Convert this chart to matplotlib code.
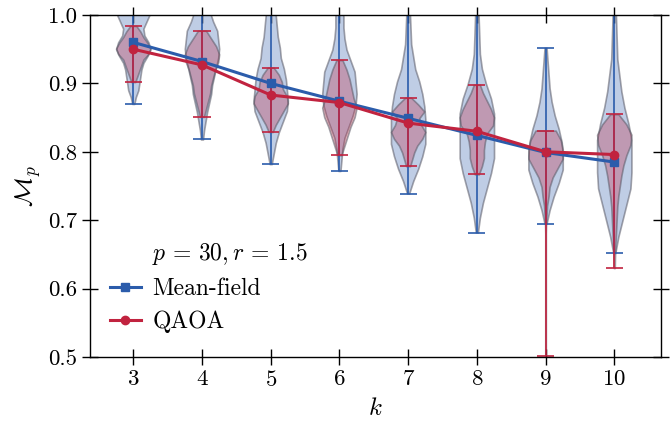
import matplotlib

matplotlib.use("Agg")
import matplotlib.pyplot as plt
import numpy as np
from matplotlib.ticker import FormatStrFormatter

plt.rcParams["font.family"] = "serif"
plt.rcParams["font.serif"] = ["cmr10"]
plt.rcParams["mathtext.fontset"] = "cm"
plt.rcParams["axes.formatter.use_mathtext"] = True

k_values = [3, 4, 5, 6, 7, 8, 9, 10]

# means shown by the markers
mf_mean = [0.960, 0.932, 0.900, 0.874, 0.849, 0.824, 0.799, 0.785]
qaoa_mean = [0.950, 0.927, 0.883, 0.872, 0.842, 0.830, 0.800, 0.796]

# extrema (caps)
mf_min = [0.870, 0.818, 0.782, 0.772, 0.739, 0.682, 0.695, 0.652]
mf_max = [1.030, 1.030, 1.030, 1.030, 1.030, 1.030, 0.952, 1.030]
qaoa_min = [0.902, 0.851, 0.829, 0.795, 0.779, 0.767, 0.502, 0.630]
qaoa_max = [0.984, 0.977, 0.923, 0.934, 0.879, 0.898, 0.831, 0.855]

# density profiles, evenly spaced from min to max
mf_density = [
    [1, 2.5, 5, 6, 7, 8, 10, 14, 17, 15, 11, 10, 13, 16, 14, 9, 4],
    [1, 2, 3.5, 5, 7, 9, 10, 12, 14, 16, 17, 16, 15, 11, 8, 5, 2],
    [1, 3, 5, 8, 12, 16, 17, 16, 15, 13, 10, 9, 7, 6, 5, 3, 1],
    [1, 2, 3, 5, 9, 13, 16, 17, 16, 15, 11, 7, 5, 4, 4, 3, 1],
    [1, 5, 10, 14, 17, 17, 17, 16, 14, 11, 7, 5, 3, 2.5, 2, 1.5, 1],
    [1, 3, 6, 10, 14, 17, 17, 17, 17, 14, 9, 5, 3, 2.5, 2, 1.5, 1],
    [1, 4, 8, 13, 17, 17, 16, 13, 9, 6, 4, 3, 2, 1],
    [1, 4, 8, 12, 16, 17, 17, 17, 14, 10, 7, 5, 3, 2.5, 2, 1.5, 1],
]
qaoa_density = [
    [2, 4, 6, 8, 10, 15, 17, 14, 10, 7, 3],
    [2, 4, 6, 8, 9, 11, 13, 16, 17, 14, 9, 4],
    [2, 5, 9, 13, 17, 16, 12, 11, 8, 3],
    [2, 5, 8, 11, 15, 17, 14, 12, 10, 7, 3],
    [2, 4, 6, 9, 14, 17, 13, 11, 16, 10, 3],
    [2, 5, 7, 7, 8, 10, 16, 17, 14, 10, 6, 3],
    [0.3, 0.3, 0.3, 0.3, 0.3, 0.3, 0.3, 0.3, 0.3, 0.3, 0.3, 0.3, 0.3, 0.3,
     0.5, 1, 1.5, 3, 4, 7, 12, 17, 17, 15, 10],
    [0.5, 0.7, 1, 1.5, 2, 2.5, 3, 4, 5.5, 7, 9, 12, 16, 17, 12, 4],
]

legend_title = r"$p\,=\,30, r\,=\,1.5$"
BLUE = "#2b5cab"
RED = "#c1233f"


def make_stats(mins, maxs, dens, means):
    stats = []
    for lo, hi, d, m in zip(mins, maxs, dens, means):
        stats.append({
            "coords": np.linspace(lo, hi, len(d)),
            "vals": np.array(d, dtype=float),
            "mean": m, "median": m, "min": lo, "max": hi,
        })
    return stats


def style_violin(parts, color):
    for body in parts["bodies"]:
        body.set_facecolor(matplotlib.colors.to_rgba(color, 0.3))
        body.set_edgecolor((0.35, 0.35, 0.4, 0.55))
        body.set_linewidth(1.2)
        body.set_alpha(None)
    for key in ("cbars", "cmins", "cmaxes"):
        parts[key].set_color(color)
        parts[key].set_linewidth(1.2)


fig = plt.figure(figsize=(6.72, 4.22), dpi=100)
ax = fig.add_axes([90 / 672, 65 / 422, 571 / 672, 342 / 422])

mf_parts = ax.violin(make_stats(mf_min, mf_max, mf_density, mf_mean), positions=k_values, widths=0.5)
style_violin(mf_parts, BLUE)
qa_parts = ax.violin(make_stats(qaoa_min, qaoa_max, qaoa_density, qaoa_mean), positions=k_values, widths=0.5)
style_violin(qa_parts, RED)

ax.plot([], [], " ", label=legend_title)
ax.plot(k_values, mf_mean, "-s", color=BLUE, lw=2.2, ms=5.5, label="Mean-field")
ax.plot(k_values, qaoa_mean, "-o", color=RED, lw=2.2, ms=6, label="QAOA")

ax.set_xlim(2.37, 10.68)
ax.set_ylim(0.5, 1.0)
ax.set_xticks(k_values)
ax.set_yticks([0.5, 0.6, 0.7, 0.8, 0.9, 1.0])
ax.yaxis.set_major_formatter(FormatStrFormatter("%.1f"))
ax.tick_params(direction="inout", length=11, width=1.0, top=True, right=True, labelsize=16.5)
for spine in ax.spines.values():
    spine.set_linewidth(1.0)
ax.set_xlabel(r"$k$", fontsize=18, labelpad=6)
ax.set_ylabel(r"$\mathcal{M}_p$", fontsize=18)

ax.legend(loc="upper left", bbox_to_anchor=(0.035, 0.339), frameon=False, fontsize=17,
          borderpad=0, borderaxespad=0, handlelength=1.3, handletextpad=0.5, labelspacing=0.45)

fig.savefig("out.png", dpi=100)
plt.close(fig)
